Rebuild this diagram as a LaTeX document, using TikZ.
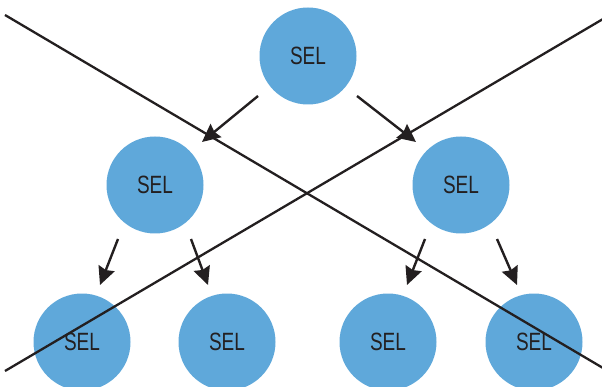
\documentclass[tikz,border=0pt]{standalone}
\usepackage{fontspec}
\setmainfont{Liberation Sans}
\usetikzlibrary{arrows.meta,calc}
\definecolor{selblue}{HTML}{5FA8DA}
\definecolor{ink}{HTML}{231F20}
\tikzset{
  sel/.style={circle, fill=selblue, minimum size=97pt, inner sep=0pt,
    font=\fontsize{25}{25}\selectfont, text=ink},
  flow/.style={ink, line width=2.4pt, -{Stealth[length=18pt,width=17pt,inset=2pt]}},
  cross/.style={ink, line width=2.3pt},
}
\newcommand{\seltext}{\scalebox{0.76}[1]{SEL}}
\begin{document}
\begin{tikzpicture}[x=1pt,y=-1pt]
\useasboundingbox (0,0) rectangle (602,387);
\node[sel] (t) at (308,56) {\seltext};
\node[sel] (ml) at (155,185) {\seltext};
\node[sel] (mr) at (461,185) {\seltext};
\node[sel] (b1) at (82,342) {\seltext};
\node[sel] (b2) at (227,342) {\seltext};
\node[sel] (b3) at (388,342) {\seltext};
\node[sel] (b4) at (534,342) {\seltext};
\draw[flow] ($(t.center)+(-50,40)$) -- ($(ml.center)+(47,-43)$);
\draw[flow] ($(t.center)+(49,40)$) -- ($(mr.center)+(-45,-43)$);
\draw[flow] ($(ml.center)+(-37,54)$) -- ($(b1.center)+(18,-57)$);
\draw[flow] ($(ml.center)+(36,54)$) -- ($(b2.center)+(-19,-57)$);
\draw[flow] ($(mr.center)+(-36,54)$) -- ($(b3.center)+(19,-57)$);
\draw[flow] ($(mr.center)+(36,54)$) -- ($(b4.center)+(-17,-57)$);
\coordinate (l1a) at (5,15);
\coordinate (l1b) at (603,368);
\coordinate (l2a) at (5,371);
\coordinate (l2b) at (603,19);
\draw[cross] (l1a) -- (l1b);
\draw[cross] (l2a) -- (l2b);
\end{tikzpicture}
\end{document}
